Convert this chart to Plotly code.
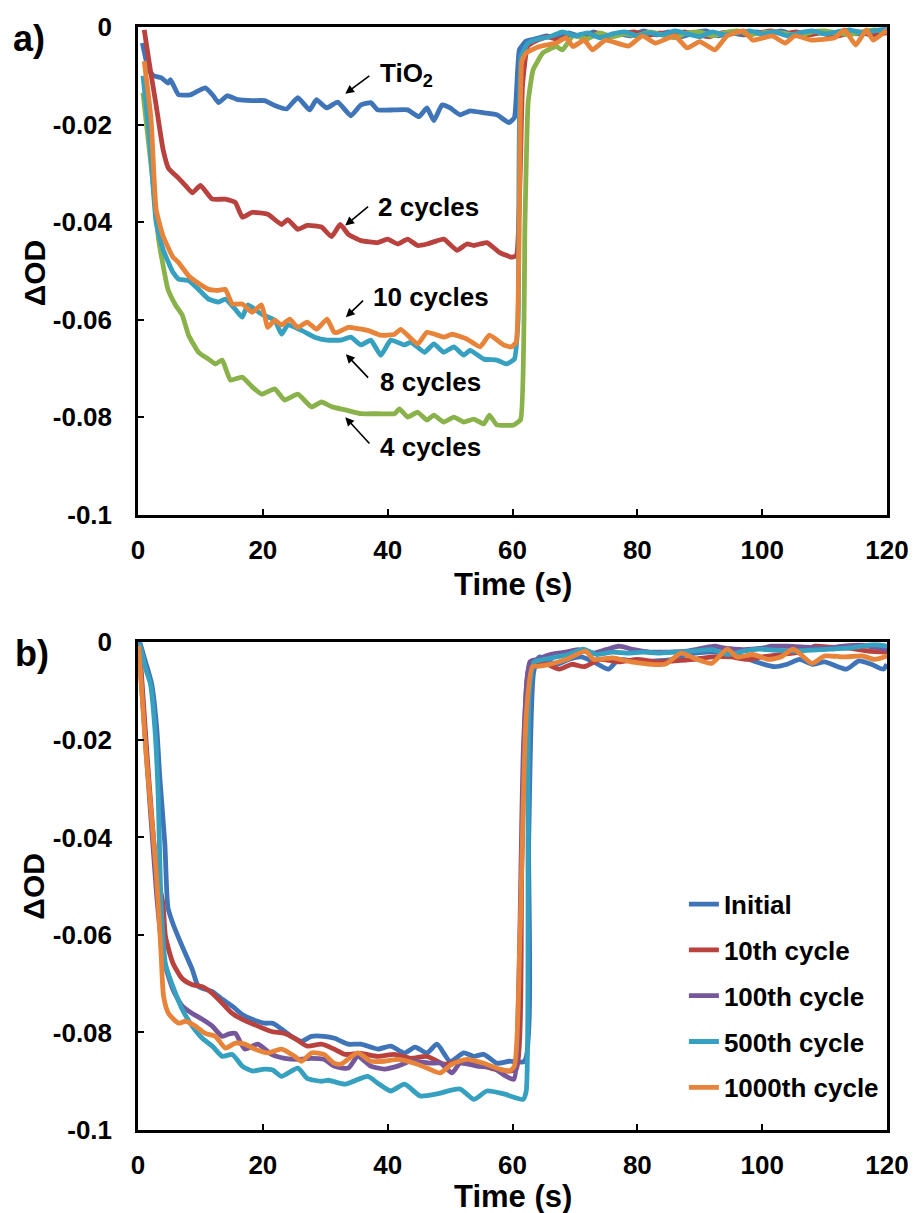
import plotly.graph_objects as go

# ---------------- Panel a) data ----------------
tio2_x = [0.7, 1.7, 2.5, 3.7, 4.8, 5.2, 6.5, 8.4, 9.5, 10.8, 12.0, 12.9, 14.3, 16.0, 18.3, 20.3, 21.9, 23.8, 25.6,
          27.5, 28.6, 30.2, 32.0, 34.1, 35.7, 37.3, 38.4, 41.0, 43.2, 45.0, 46.3, 47.4, 48.7, 50.0, 51.6, 53.2,
          55.4, 57.5, 59.4, 60.3, 61.1, 62.2, 63.5, 65.4, 67, 69, 71, 73, 75, 77, 79, 81, 83, 85, 87, 89, 91, 93,
          95, 97, 99, 101, 103, 105, 107, 109, 111, 113, 115, 117, 119, 120]
tio2_y = [-0.0033, -0.0088, -0.0100, -0.0104, -0.0115, -0.0108, -0.0139, -0.0139, -0.0132, -0.0125, -0.0140,
          -0.0155, -0.0141, -0.0149, -0.0151, -0.0151, -0.0161, -0.0168, -0.0145, -0.0170, -0.0149, -0.0166,
          -0.0154, -0.0182, -0.0160, -0.0155, -0.0170, -0.0170, -0.0170, -0.0184, -0.0166, -0.0192, -0.0160,
          -0.0166, -0.0180, -0.0172, -0.0176, -0.0180, -0.0196, -0.0186, -0.0047, -0.0029, -0.0025, -0.0018,
          -0.0022, -0.0012, -0.0020, -0.0010, -0.0022, -0.0014, -0.0018, -0.0008, -0.0016, -0.0010, -0.0020,
          -0.0012, -0.0008, -0.0018, -0.0012, -0.0016, -0.0010, -0.0014, -0.0008, -0.0015, -0.0012, -0.0010,
          -0.0016, -0.0008, -0.0014, -0.0010, -0.0006, -0.0010]

c2_x = [1.0, 2.0, 2.9, 4.0, 4.9, 6.5, 7.6, 8.7, 10.0, 11.9, 14.0, 15.6, 16.7, 18.3, 20.8, 23.0, 24.0, 25.6, 27.1,
        29.4, 31.0, 32.4, 33.7, 35.7, 38.4, 40.0, 41.6, 43.2, 44.8, 46.3, 49.0, 51.1, 52.7, 53.8, 55.9, 57.9,
        59.8, 60.6, 61.6, 62.4, 63.5, 65.5, 67.5, 69.5, 71.5, 73.5, 75.5, 77.5, 79.5, 81.5, 83.5, 85.5, 87.5,
        89.5, 91.5, 93.5, 95.5, 97.5, 99.5, 101.5, 103.5, 105.5, 107.5, 109.5, 111.5, 113.5, 115.5, 117.5, 120]
c2_y = [-0.0006, -0.0090, -0.0160, -0.0250, -0.0290, -0.0310, -0.0325, -0.0340, -0.0325, -0.0353, -0.0353,
        -0.0360, -0.0390, -0.0380, -0.0384, -0.0405, -0.0395, -0.0415, -0.0407, -0.0410, -0.0430, -0.0405,
        -0.0425, -0.0438, -0.0442, -0.0435, -0.0445, -0.0435, -0.0448, -0.0445, -0.0435, -0.0458, -0.0445,
        -0.0448, -0.0442, -0.0462, -0.0472, -0.0469, -0.0120, -0.0040, -0.0030, -0.0020, -0.0026, -0.0016,
        -0.0022, -0.0012, -0.0020, -0.0014, -0.0010, -0.0018, -0.0012, -0.0016, -0.0010, -0.0015, -0.0020,
        -0.0012, -0.0010, -0.0016, -0.0012, -0.0008, -0.0014, -0.0010, -0.0016, -0.0012, -0.0020, -0.0014,
        -0.0010, -0.0016, -0.0012]

c10_x = [1.0, 2.1, 2.9, 4.0, 5.6, 6.5, 8.1, 9.5, 11.3, 12.9, 14.0, 15.1, 16.7, 18.3, 19.8, 20.8, 21.9, 23.0, 24.3,
         25.6, 27.1, 28.6, 30.3, 31.4, 32.0, 33.7, 36.8, 38.9, 41.1, 42.1, 44.8, 46.3, 49.0, 50.3, 52.7, 54.8,
         56.3, 58.6, 59.8, 60.6, 61.5, 62.2, 64.3, 67.0, 68.6, 69.7, 71.5, 72.8, 74.9, 78.6, 80.8, 82.9, 86.0,
         88.0, 90.0, 92.4, 94.4, 97.0, 98.5, 101.6, 103.7, 105.2, 108.0, 111.6, 113.2, 115.0, 116.7, 117.8, 120]
c10_y = [-0.0070, -0.0190, -0.0374, -0.0428, -0.0472, -0.0483, -0.0510, -0.0524, -0.0538, -0.0540, -0.0538,
         -0.0568, -0.0568, -0.0585, -0.0570, -0.0616, -0.0601, -0.0611, -0.0599, -0.0616, -0.0605, -0.0620,
         -0.0599, -0.0626, -0.0626, -0.0616, -0.0622, -0.0632, -0.0630, -0.0620, -0.0650, -0.0626, -0.0636,
         -0.0630, -0.0640, -0.0656, -0.0632, -0.0652, -0.0656, -0.0646, -0.0070, -0.0053, -0.0040, -0.0033,
         -0.0022, -0.0040, -0.0027, -0.0047, -0.0027, -0.0039, -0.0018, -0.0033, -0.0018, -0.0043, -0.0030,
         -0.0047, -0.0018, -0.0008, -0.0027, -0.0018, -0.0033, -0.0018, -0.0027, -0.0022, -0.0006, -0.0037,
         -0.0006, -0.0027, -0.0006]

c8_x = [0.8, 1.8, 2.9, 4.0, 5.6, 6.5, 8.1, 9.7, 11.3, 12.9, 14.0, 15.6, 16.7, 17.6, 19.8, 21.9, 23.0, 24.0, 26.2,
        28.3, 30.3, 32.5, 34.1, 35.7, 37.3, 38.9, 40.5, 42.7, 43.7, 45.9, 47.4, 49.0, 50.6, 52.2, 53.2, 55.4,
        57.5, 59.0, 60.3, 60.9, 61.4, 62.5, 64.0, 66, 68, 70, 72, 74, 76, 78, 80, 82, 84, 86, 88, 90, 92, 94, 96,
        98, 100, 102, 104, 106, 108, 110, 112, 114, 116, 118, 120]
c8_y = [-0.0100, -0.0220, -0.0400, -0.0456, -0.0503, -0.0517, -0.0520, -0.0538, -0.0558, -0.0564, -0.0558,
        -0.0579, -0.0595, -0.0570, -0.0589, -0.0601, -0.0630, -0.0611, -0.0622, -0.0636, -0.0642, -0.0642,
        -0.0636, -0.0652, -0.0642, -0.0673, -0.0642, -0.0652, -0.0646, -0.0667, -0.0650, -0.0667, -0.0656,
        -0.0673, -0.0663, -0.0681, -0.0683, -0.0691, -0.0681, -0.0600, -0.0060, -0.0033, -0.0025, -0.0020,
        -0.0010, -0.0018, -0.0012, -0.0022, -0.0014, -0.0010, -0.0018, -0.0012, -0.0016, -0.0008, -0.0014,
        -0.0020, -0.0010, -0.0016, -0.0012, -0.0008, -0.0014, -0.0010, -0.0018, -0.0012, -0.0008, -0.0014,
        -0.0010, -0.0006, -0.0012, -0.0008, -0.0004]

c4_x = [0.8, 2.4, 3.3, 4.8, 6.0, 7.1, 8.1, 9.7, 11.3, 12.4, 13.5, 14.8, 16.7, 18.3, 19.8, 21.9, 23.5, 25.6, 27.8,
        29.4, 31.1, 33.2, 35.7, 38.4, 41.1, 41.9, 43.2, 44.8, 46.3, 47.4, 49.0, 50.6, 52.2, 53.8, 55.4, 56.3,
        57.5, 60.2, 61.3, 62.0, 62.5, 63.3, 64.9, 67.0, 68.0, 69.7, 72, 74, 76, 78, 80, 82, 84, 86, 88, 90, 92,
        94, 96, 98, 100, 102, 104, 106, 108, 110, 112, 114, 116, 118, 120]
c4_y = [-0.0135, -0.0319, -0.0436, -0.0538, -0.0570, -0.0591, -0.0632, -0.0667, -0.0681, -0.0691, -0.0683,
        -0.0724, -0.0718, -0.0738, -0.0753, -0.0742, -0.0765, -0.0753, -0.0779, -0.0769, -0.0779, -0.0785,
        -0.0793, -0.0793, -0.0793, -0.0783, -0.0800, -0.0790, -0.0806, -0.0796, -0.0810, -0.0800, -0.0810,
        -0.0804, -0.0814, -0.0796, -0.0816, -0.0816, -0.0805, -0.0400, -0.0155, -0.0088, -0.0053, -0.0040,
        -0.0047, -0.0018, -0.0024, -0.0012, -0.0020, -0.0014, -0.0018, -0.0010, -0.0016, -0.0022, -0.0012,
        -0.0010, -0.0018, -0.0012, -0.0008, -0.0016, -0.0012, -0.0010, -0.0014, -0.0018, -0.0010, -0.0008,
        -0.0012, -0.0016, -0.0010, -0.0006, -0.0010]

# ---------------- Panel b) data ----------------
ini_x = [0.3, 1.2, 2.2, 3.0, 3.5, 4.3, 4.8, 5.6, 7.1, 8.7, 9.7, 11.9, 13.5, 15.1, 16.7, 18.3, 20.3, 21.6, 23.0,
         24.6, 26.2, 27.8, 29.8, 31.5, 33.7, 35.7, 38.4, 40.5, 42.7, 44.4, 46.3, 47.9, 50.0, 52.2, 53.8, 55.4,
         57.5, 59.5, 61.9, 62.6, 63.4, 64.3, 67, 69, 71, 73, 75.4, 77, 80, 83, 86, 88, 91, 93, 96, 99, 102, 104,
         106, 108, 110, 113.5, 115.5, 117.5, 119.4, 120]
ini_y = [0.0, -0.0040, -0.0086, -0.0176, -0.0278, -0.0413, -0.0544, -0.0577, -0.0624, -0.0671, -0.0706,
         -0.0716, -0.0732, -0.0746, -0.0763, -0.0773, -0.0781, -0.0781, -0.0793, -0.0808, -0.0818, -0.0808,
         -0.0808, -0.0812, -0.0824, -0.0824, -0.0834, -0.0828, -0.0842, -0.0830, -0.0842, -0.0824, -0.0859,
         -0.0842, -0.0849, -0.0845, -0.0863, -0.0859, -0.0859, -0.0400, -0.0060, -0.0030, -0.0045, -0.0035,
         -0.0030, -0.0040, -0.0055, -0.0035, -0.0040, -0.0038, -0.0035, -0.0025, -0.0020, -0.0020, -0.0025,
         -0.0040, -0.0050, -0.0045, -0.0035, -0.0045, -0.0040, -0.0055, -0.0038, -0.0045, -0.0055, -0.0045]

th10_x = [0.2, 1.5, 3.0, 4.0, 4.4, 5.6, 7.1, 8.7, 10.3, 11.9, 13.5, 15.1, 16.7, 19.2, 21.4, 23.5, 25.1, 27.1,
          29.4, 31.4, 33.2, 35.7, 38.4, 41.1, 43.7, 46.3, 49.0, 51.6, 54.3, 57.0, 59.5, 60.6, 61.5, 62.5, 63.5,
          65.5, 67.5, 69.5, 71.5, 74, 77, 80, 83, 86, 89, 92, 95, 97.6, 100, 103, 106, 108.5, 111, 114, 117, 120]
th10_y = [0.0, -0.0240, -0.0470, -0.0536, -0.0603, -0.0658, -0.0690, -0.0702, -0.0706, -0.0720, -0.0740,
          -0.0761, -0.0773, -0.0787, -0.0798, -0.0802, -0.0812, -0.0828, -0.0824, -0.0834, -0.0845, -0.0843,
          -0.0849, -0.0845, -0.0853, -0.0849, -0.0865, -0.0859, -0.0863, -0.0875, -0.0879, -0.0875, -0.0450,
          -0.0060, -0.0040, -0.0045, -0.0055, -0.0045, -0.0050, -0.0035, -0.0040, -0.0035, -0.0040, -0.0038,
          -0.0035, -0.0030, -0.0030, -0.0035, -0.0030, -0.0025, -0.0020, -0.0008, -0.0010, -0.0012, -0.0018,
          -0.0020]

th100_x = [0.1, 1.5, 3.0, 3.2, 4.1, 5.6, 7.1, 8.7, 10.3, 11.9, 13.5, 14.6, 15.6, 17.1, 19.2, 21.4, 23.5, 25.6,
           27.8, 29.8, 31.4, 33.7, 35.2, 37.3, 39.5, 41.6, 43.7, 46.8, 48.5, 50.3, 51.6, 54.3, 56.9, 59.0, 60.2,
           61.0, 61.8, 62.8, 64, 66, 68.5, 70.5, 73, 75, 77, 79.5, 82, 85, 88, 90.5, 92.4, 94, 97, 100, 101.5,
           104, 107, 110, 113, 116, 118, 120]
th100_y = [0.0, -0.0260, -0.0520, -0.0548, -0.0650, -0.0712, -0.0746, -0.0761, -0.0773, -0.0787, -0.0808,
           -0.0803, -0.0802, -0.0834, -0.0824, -0.0845, -0.0853, -0.0855, -0.0853, -0.0855, -0.0869, -0.0873,
           -0.0849, -0.0869, -0.0875, -0.0869, -0.0859, -0.0863, -0.0863, -0.0883, -0.0863, -0.0869, -0.0873,
           -0.0890, -0.0896, -0.0700, -0.0200, -0.0040, -0.0035, -0.0025, -0.0020, -0.0015, -0.0022, -0.0015,
           -0.0008, -0.0015, -0.0020, -0.0020, -0.0018, -0.0012, -0.0008, -0.0012, -0.0015, -0.0012, -0.0008,
           -0.0008, -0.0010, -0.0012, -0.0008, -0.0006, -0.0010, -0.0015]

th500_x = [0.2, 1.3, 2.0, 2.7, 3.2, 3.7, 4.4, 5.6, 7.1, 8.7, 10.3, 11.9, 13.5, 15.1, 16.7, 18.3, 20.3, 21.6, 23.0,
           25.6, 27.1, 29.4, 30.5, 33.2, 36.8, 38.4, 40.5, 42.7, 45.2, 47.9, 51.6, 53.8, 55.9, 58.6, 61.7, 62.2,
           62.7, 63.5, 65, 67, 69, 71.3, 73.5, 76, 78.5, 81, 83.5, 86, 89, 92, 94.5, 97, 99.5, 102, 105, 108, 111,
           113.5, 116, 118, 120]
th500_y = [0.0, -0.0057, -0.0086, -0.0176, -0.0300, -0.0536, -0.0660, -0.0706, -0.0753, -0.0787, -0.0812,
           -0.0828, -0.0849, -0.0845, -0.0869, -0.0879, -0.0875, -0.0877, -0.0890, -0.0873, -0.0894, -0.0900,
           -0.0898, -0.0906, -0.0890, -0.0904, -0.0920, -0.0906, -0.0930, -0.0926, -0.0916, -0.0937, -0.0920,
           -0.0926, -0.0937, -0.0920, -0.0100, -0.0040, -0.0035, -0.0030, -0.0025, -0.0014, -0.0025, -0.0020,
           -0.0022, -0.0020, -0.0022, -0.0020, -0.0018, -0.0015, -0.0025, -0.0018, -0.0014, -0.0016, -0.0018,
           -0.0016, -0.0014, -0.0012, -0.0008, -0.0005, -0.0008]

th1000_x = [0.1, 1.3, 2.9, 3.7, 4.1, 4.9, 6.5, 7.6, 9.2, 10.8, 12.4, 14.0, 15.6, 17.1, 18.7, 20.8, 23.0, 25.1,
            26.2, 27.8, 29.8, 31.4, 32.5, 35.2, 37.3, 39.5, 41.6, 44.3, 46.3, 48.4, 50.3, 52.7, 55.4, 57.9, 59.5,
            60.3, 61.2, 62.2, 63.2, 64.3, 66, 69, 71.7, 73, 76, 79, 84.4, 87, 89, 91.9, 94.4, 96, 98.5, 101, 103,
            105, 108, 110, 113, 116, 118, 120]
th1000_y = [-0.0007, -0.0230, -0.0466, -0.0638, -0.0726, -0.0761, -0.0781, -0.0777, -0.0787, -0.0802, -0.0808,
            -0.0832, -0.0822, -0.0824, -0.0834, -0.0842, -0.0834, -0.0849, -0.0859, -0.0842, -0.0845, -0.0863,
            -0.0865, -0.0842, -0.0859, -0.0859, -0.0855, -0.0863, -0.0873, -0.0883, -0.0865, -0.0855, -0.0863,
            -0.0875, -0.0879, -0.0869, -0.0600, -0.0150, -0.0050, -0.0049, -0.0045, -0.0033, -0.0018, -0.0035,
            -0.0032, -0.0040, -0.0045, -0.0022, -0.0032, -0.0043, -0.0014, -0.0030, -0.0025, -0.0035, -0.0030,
            -0.0014, -0.0043, -0.0028, -0.0030, -0.0028, -0.0035, -0.0028]

# ---------------- labels ----------------
y_tickvals = [0, -0.02, -0.04, -0.06, -0.08, -0.1]
y_ticktext = ["0", "-0.02", "-0.04", "-0.06", "-0.08", "-0.1"]
x_tickvals = [0, 20, 40, 60, 80, 100, 120]
x_ticktext = ["0", "20", "40", "60", "80", "100", "120"]

BLUE = "#3F74B8"
RED = "#B9413E"
GREEN = "#8AB24A"
TEAL = "#35A0BF"
ORANGE = "#E8833A"
PURPLE = "#75589C"

FONT = "Liberation Sans, Arial, sans-serif"
LW = 4.8

fig = go.Figure()

top_series = [
    ("TiO2", tio2_x, tio2_y, BLUE),
    ("2 cycles", c2_x, c2_y, RED),
    ("4 cycles", c4_x, c4_y, GREEN),
    ("8 cycles", c8_x, c8_y, TEAL),
    ("10 cycles", c10_x, c10_y, ORANGE),
]
for name, xs, ys, col in top_series:
    fig.add_trace(go.Scatter(x=xs, y=ys, mode="lines", name=name, showlegend=False,
                             line=dict(color=col, width=LW, shape="spline", smoothing=0.4),
                             xaxis="x", yaxis="y"))

bottom_series = [
    ("Initial", ini_x, ini_y, BLUE),
    ("10th cycle", th10_x, th10_y, RED),
    ("100th cycle", th100_x, th100_y, PURPLE),
    ("500th cycle", th500_x, th500_y, TEAL),
    ("1000th cycle", th1000_x, th1000_y, ORANGE),
]
for name, xs, ys, col in bottom_series:
    fig.add_trace(go.Scatter(x=xs, y=ys, mode="lines", name=name, legendgroup=name,
                             line=dict(color=col, width=LW, shape="spline", smoothing=0.6),
                             xaxis="x2", yaxis="y2"))

W, H = 921, 1213
ML, MR, MT, MB = 138, 27, 24, 83
PH = H - MT - MB


def py2paper(py):
    return (H - MB - py) / PH


def px2paper(px):
    return (px - ML) / (W - ML - MR)


axis_common = dict(
    showline=True, linecolor="black", linewidth=2.5, mirror=True,
    ticks="inside", ticklen=6, tickwidth=2, tickcolor="black",
    showgrid=False, zeroline=False,
    tickfont=dict(family=FONT, size=26, color="black", weight="bold"),
)

fig.update_layout(
    width=W, height=H,
    margin=dict(l=ML, r=MR, t=MT, b=MB),
    paper_bgcolor="white", plot_bgcolor="white",
    xaxis=dict(domain=[0, 1], anchor="y", range=[0, 120], tickvals=x_tickvals, ticktext=x_ticktext,
               ticklabelstandoff=10, **axis_common),
    yaxis=dict(domain=[py2paper(513), 1], anchor="x", range=[-0.1, 0], tickvals=y_tickvals,
               ticktext=y_ticktext, ticklabelstandoff=18, **axis_common),
    xaxis2=dict(domain=[0, 1], anchor="y2", range=[0, 120], tickvals=x_tickvals, ticktext=x_ticktext,
                ticklabelstandoff=10, **axis_common),
    yaxis2=dict(domain=[0, py2paper(641)], anchor="x2", range=[-0.1, 0], tickvals=y_tickvals,
                ticktext=y_ticktext, ticklabelstandoff=18, **axis_common),
    showlegend=True,
    legend=dict(x=px2paper(689), y=py2paper(880), xanchor="left", yanchor="top",
                font=dict(family=FONT, size=26, color="black", weight="bold"),
                bgcolor="rgba(0,0,0,0)", tracegroupgap=9, itemwidth=30),
)

anns = []
txtfont = dict(family=FONT, size=26, color="black", weight="bold")
# axis titles and panel labels
for ycenter_px, xt_px in [(270, 583), (885, 1197)]:
    anns.append(dict(text="ΔOD", xref="paper", yref="paper", x=px2paper(33), y=py2paper(ycenter_px),
                     showarrow=False, textangle=-90, xanchor="center", yanchor="middle",
                     font=dict(family=FONT, size=30, color="black", weight="bold")))
    anns.append(dict(text="Time (s)", xref="paper", yref="paper", x=px2paper(516), y=py2paper(xt_px),
                     showarrow=False, xanchor="center", yanchor="middle",
                     font=dict(family=FONT, size=31, color="black", weight="bold")))
anns.append(dict(text="a)", xref="paper", yref="paper", x=px2paper(10), y=py2paper(36), showarrow=False,
                 xanchor="left", yanchor="middle", font=dict(family=FONT, size=36, color="black", weight="bold")))
anns.append(dict(text="b)", xref="paper", yref="paper", x=px2paper(12), y=py2paper(652), showarrow=False,
                 xanchor="left", yanchor="middle", font=dict(family=FONT, size=36, color="black", weight="bold")))

# curve labels with arrows (panel a)
labels = [
    ("TiO<sub>2</sub>", 38.4, -0.0098, 33.2, -0.0137, 37.3, -0.0098),
    ("2 cycles", 38.1, -0.0370, 33.2, -0.0407, 37.1, -0.0366),
    ("10 cycles", 37.3, -0.0554, 33.3, -0.0595, 36.3, -0.0558),
    ("8 cycles", 38.4, -0.0728, 33.3, -0.0671, 37.1, -0.0722),
    ("4 cycles", 38.4, -0.0861, 33.2, -0.0800, 37.3, -0.0857),
]
for txt, tx, ty, hx, hy, tlx, tly in labels:
    anns.append(dict(text=txt, xref="x", yref="y", x=tx, y=ty, showarrow=False, xanchor="left",
                     yanchor="middle", font=txtfont))
    anns.append(dict(text="", xref="x", yref="y", x=hx, y=hy, axref="x", ayref="y", ax=tlx, ay=tly,
                     showarrow=True, arrowhead=2, arrowsize=1.1, arrowwidth=1.6, arrowcolor="black"))

fig.update_layout(annotations=anns)

fig.write_html("out.html")
